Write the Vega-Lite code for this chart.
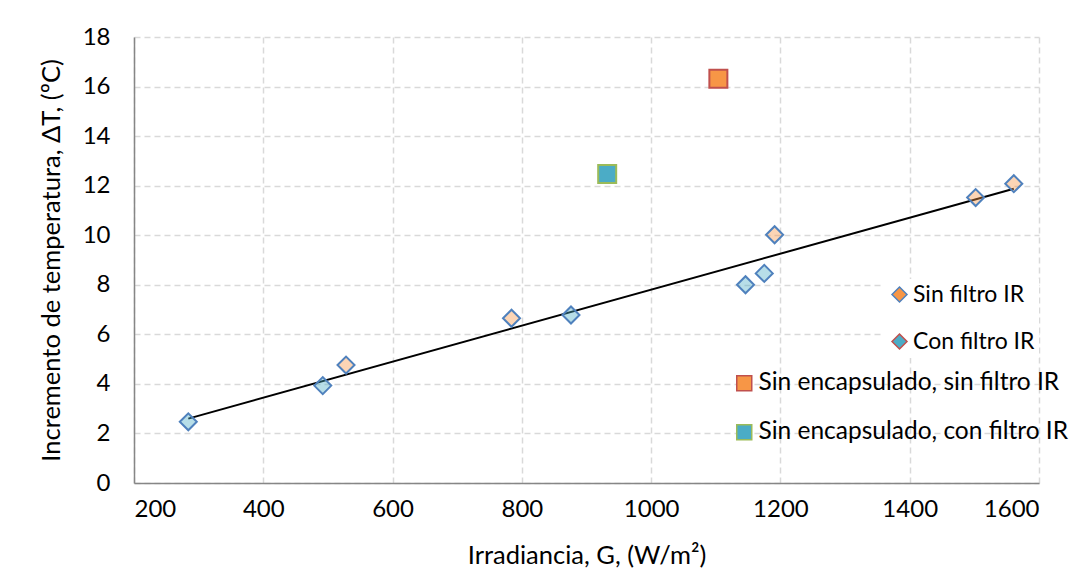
{
  "$schema": "https://vega.github.io/schema/vega-lite/v6.json",
  "width": 905,
  "height": 446,
  "autosize": {"type": "none"},
  "padding": {"left": 134, "top": 37, "right": 47, "bottom": 96},
  "background": "white",
  "config": {
    "font": "Lato",
    "view": {"stroke": null},
    "axis": {
      "grid": true,
      "gridDash": [6, 4],
      "gridColor": "#D9D9D9",
      "gridWidth": 1.5,
      "domainColor": "#868686",
      "domainWidth": 1.5,
      "ticks": false,
      "labelFontSize": 24,
      "labelColor": "#000000",
      "titleFontSize": 25.5,
      "titleFontWeight": "normal",
      "titleColor": "#000000",
      "format": "d"
    }
  },
  "datasets": {
    "diamantes": [
      {"G": 528, "dT": 4.76, "serie": "Sin filtro IR"},
      {"G": 784, "dT": 6.65, "serie": "Sin filtro IR"},
      {"G": 1191, "dT": 10.02, "serie": "Sin filtro IR"},
      {"G": 1502, "dT": 11.52, "serie": "Sin filtro IR"},
      {"G": 1561, "dT": 12.08, "serie": "Sin filtro IR"},
      {"G": 284, "dT": 2.47, "serie": "Con filtro IR"},
      {"G": 492, "dT": 3.93, "serie": "Con filtro IR"},
      {"G": 876, "dT": 6.78, "serie": "Con filtro IR"},
      {"G": 1146, "dT": 8.0, "serie": "Con filtro IR"},
      {"G": 1175, "dT": 8.46, "serie": "Con filtro IR"}
    ],
    "cuadrados": [
      {"G": 1104, "dT": 16.32, "serie": "Sin encapsulado, sin filtro IR"},
      {"G": 932, "dT": 12.47, "serie": "Sin encapsulado, con filtro IR"}
    ]
  },
  "layer": [
    {
      "data": {"name": "diamantes"},
      "transform": [{"regression": "dT", "on": "G"}],
      "mark": {"type": "line", "color": "#000000", "strokeWidth": 2},
      "encoding": {
        "x": {"field": "G", "type": "quantitative", "scale": {"domain": [200, 1600], "nice": false},
          "axis": {"values": [200, 400, 600, 800, 1000, 1200, 1400, 1600], "title": "Irradiancia, G, (W/m²)", "labelPadding": 14, "titlePadding": 22}},
        "y": {"field": "dT", "type": "quantitative", "scale": {"domain": [0, 18], "nice": false},
          "axis": {"values": [0, 2, 4, 6, 8, 10, 12, 14, 16, 18], "title": "Incremento de temperatura, ΔT, (ºC)", "labelPadding": 24, "titlePadding": 18}}
      }
    },
    {
      "data": {"name": "diamantes"},
      "mark": {"type": "point", "shape": "diamond", "filled": true, "size": 0, "strokeWidth": 1.5, "opacity": 1},
      "encoding": {
        "x": {"field": "G", "type": "quantitative"},
        "y": {"field": "dT", "type": "quantitative"},
        "fill": {
          "field": "serie", "type": "nominal",
          "scale": {"domain": ["Sin filtro IR", "Con filtro IR"], "range": ["#F79646", "#4BACC6"]},
          "legend": {
            "title": null, "orient": "none", "legendX": 750, "legendY": 242,
            "symbolType": "diamond", "symbolSize": 225, "symbolStrokeWidth": 1.5, "symbolOpacity": 1,
            "labelFontSize": 23, "labelColor": "#000000", "labelOffset": 2, "labelLimit": 400,
            "rowPadding": 23, "padding": 4, "fillColor": "white"
          }
        },
        "stroke": {
          "field": "serie", "type": "nominal",
          "scale": {"domain": ["Sin filtro IR", "Con filtro IR"], "range": ["#4F81BD", "#C0504D"]}
        }
      }
    },
    {
      "data": {"name": "diamantes"},
      "mark": {"type": "point", "shape": "diamond", "filled": true, "opacity": 1, "fillOpacity": 0.4, "stroke": "#4F81BD", "strokeWidth": 2, "size": 289},
      "encoding": {
        "x": {"field": "G", "type": "quantitative"},
        "y": {"field": "dT", "type": "quantitative"},
        "fill": {
          "field": "serie", "type": "nominal",
          "scale": {"domain": ["Sin filtro IR", "Con filtro IR"], "range": ["#F79646", "#4BACC6"]},
          "legend": null
        }
      }
    },
    {
      "data": {"name": "cuadrados"},
      "mark": {"type": "point", "shape": "square", "filled": true, "opacity": 1, "fillOpacity": 1, "strokeWidth": 2, "size": 324},
      "encoding": {
        "x": {"field": "G", "type": "quantitative"},
        "y": {"field": "dT", "type": "quantitative"},
        "fill": {
          "field": "serie", "type": "nominal",
          "scale": {"domain": ["Sin encapsulado, sin filtro IR", "Sin encapsulado, con filtro IR"], "range": ["#F79646", "#4BACC6"]},
          "legend": {
            "title": null, "orient": "none", "legendX": 594, "legendY": 330,
            "symbolType": "square", "symbolSize": 225, "symbolStrokeWidth": 1.5, "symbolOpacity": 1,
            "labelFontSize": 24.5, "labelColor": "#000000", "labelOffset": 2, "labelLimit": 400,
            "rowPadding": 24, "padding": 4
          }
        },
        "stroke": {
          "field": "serie", "type": "nominal",
          "scale": {"domain": ["Sin encapsulado, sin filtro IR", "Sin encapsulado, con filtro IR"], "range": ["#C0504D", "#9BBB59"]}
        }
      }
    }
  ],
  "resolve": {"scale": {"fill": "independent", "stroke": "independent"}, "legend": {"fill": "independent", "stroke": "independent"}}
}
